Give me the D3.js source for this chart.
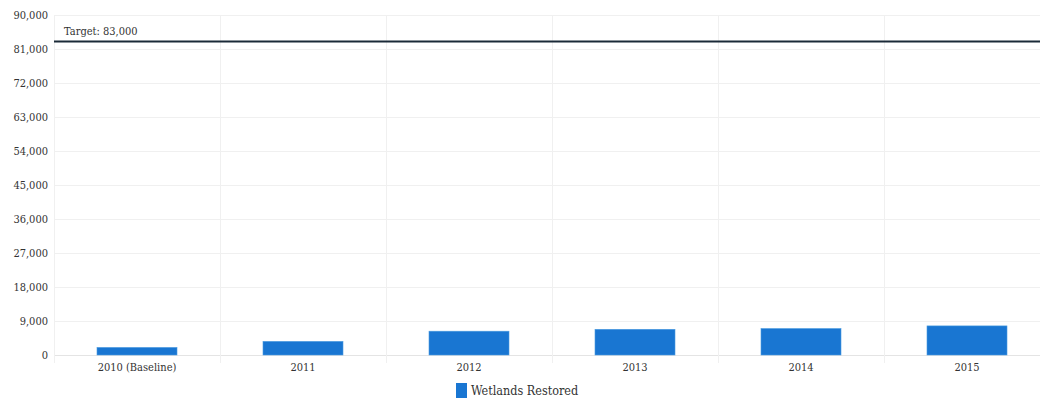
<!DOCTYPE html>
<html>
<head>
<meta charset="utf-8">
<script src="https://cdn.jsdelivr.net/npm/d3@7"></script>
<style>
  body { margin: 0; background: #fff; }
  svg text { font-family: "DejaVu Serif", serif; font-stretch: condensed; fill: #333; }
</style>
</head>
<body>
<div id="chart"></div>
<script>
// data
const categories = ["2010 (Baseline)", "2011", "2012", "2013", "2014", "2015"];
const wetlands = [2000, 3600, 6300, 6800, 7000, 7700];
const yTicks = [0, 9000, 18000, 27000, 36000, 45000, 54000, 63000, 72000, 81000, 90000];
const targetValue = 83000;
const seriesName = "Wetlands Restored";

const width = 1040, height = 400;
const margin = {top: 15, right: -10, bottom: 45, left: 54};

const svg = d3.select('#chart')
    .append('svg')
    .attr('width', width)
    .attr('height', height);

const x = d3.scaleBand()
    .domain(categories)
    .range([margin.left, width - margin.right])
    .paddingInner(0)
    .paddingOuter(0);

const y = d3.scaleLinear()
    .domain([0, 90000])
    .range([height - margin.bottom, margin.top]);

const fmt = d3.format(',');

// horizontal grid
svg.append('g')
    .selectAll('line')
    .data(yTicks)
    .enter()
    .append('line')
    .attr('x1', margin.left)
    .attr('x2', width - margin.right)
    .attr('y1', d => y(d) + 0.5)
    .attr('y2', d => y(d) + 0.5)
    .attr('stroke', d => d === 0 ? '#e4e4e4' : '#f0f0f0');

// vertical grid at band edges
svg.append('g')
    .selectAll('line')
    .data(categories)
    .enter()
    .append('line')
    .attr('x1', d => Math.round(x(d)) + 0.5)
    .attr('x2', d => Math.round(x(d)) + 0.5)
    .attr('y1', margin.top)
    .attr('y2', y(0) + 8)
    .attr('stroke', '#f0f0f0');

// y axis labels
const yAxis = d3.axisLeft(y).tickValues(yTicks).tickFormat(fmt).tickSize(0).tickPadding(6);
svg.append('g')
    .attr('transform', 'translate(' + margin.left + ',0)')
    .call(yAxis)
    .call(g => g.select('.domain').remove())
    .selectAll('text')
    .attr('font-size', 11)
    .style('font-family', '"DejaVu Serif", serif');

// x axis labels
const xAxis = d3.axisBottom(x).tickSize(0).tickPadding(8);
svg.append('g')
    .attr('transform', 'translate(0,' + y(0) + ')')
    .call(xAxis)
    .call(g => g.select('.domain').remove())
    .selectAll('text')
    .attr('font-size', 11)
    .style('font-family', '"DejaVu Serif", serif');

// bars
const barW = 80;
svg.append('g')
    .selectAll('rect')
    .data(wetlands)
    .enter()
    .append('rect')
    .attr('x', (d, i) => x(categories[i]) + x.bandwidth() / 2 - barW / 2)
    .attr('y', d => y(d))
    .attr('width', barW)
    .attr('height', d => y(0) - y(d))
    .attr('fill', '#1976d2')
    .attr('stroke', '#4a9be0')
    .attr('stroke-width', 0.6);

// target line
svg.append('line')
    .attr('x1', margin.left)
    .attr('x2', width)
    .attr('y1', y(targetValue))
    .attr('y2', y(targetValue))
    .attr('stroke', '#1b2a38')
    .attr('stroke-width', 2);

svg.append('text')
    .attr('x', margin.left + 10)
    .attr('y', y(targetValue) - 6)
    .attr('font-size', 11)
    .text('Target: ' + fmt(targetValue));

// legend
const legend = svg.append('g').attr('transform', 'translate(456,383)');
legend.append('rect')
    .attr('width', 11)
    .attr('height', 15)
    .attr('fill', '#1976d2');
legend.append('text')
    .attr('x', 15)
    .attr('y', 12)
    .attr('font-size', 12.5)
    .text(seriesName);
</script>
</body>
</html>
